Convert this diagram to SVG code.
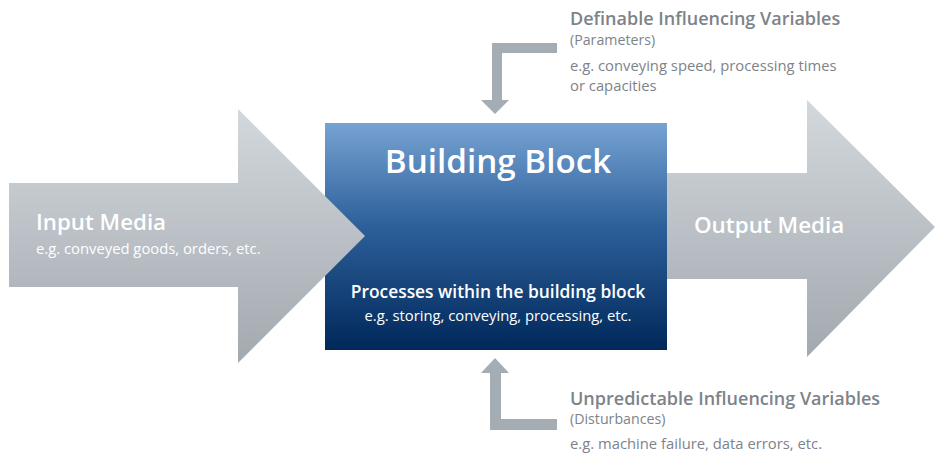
<svg xmlns="http://www.w3.org/2000/svg" width="940" height="456" viewBox="0 0 940 456">
<defs>
<linearGradient id="gArrow" x1="0" y1="0" x2="0" y2="1">
<stop offset="0" stop-color="#d3d8dc"/>
<stop offset="1" stop-color="#a2a9af"/>
</linearGradient>
<linearGradient id="gBox" x1="0" y1="0" x2="0" y2="1">
<stop offset="0" stop-color="#77a3d3"/>
<stop offset="0.45" stop-color="#2d609a"/>
<stop offset="1" stop-color="#00285a"/>
</linearGradient>
<style>
text{font-family:"Open Sans","Noto Sans","Liberation Sans",sans-serif}
.w{fill:#ffffff}
.g{fill:#7d838a}
.h{font-weight:600}
.elbow{fill:#a5adb4}
</style>
</defs>
<rect width="940" height="456" fill="#ffffff"/>
<g id="connectors">
<path class="elbow" d="M557 43 L492 43 L492 100 L481 100 L495 114 L509 100 L502 100 L502 53 L557 53 Z"/>
<path class="elbow" d="M557 430 L490 430 L490 373 L481 373 L495 358 L509 373 L501 373 L501 419 L557 419 Z"/>
</g>
<g id="output">
<path d="M660 173 L807 173 L807 100 L935 227 L807 357 L807 279 L660 279 Z" fill="url(#gArrow)"/>
<text class="w h" x="694" y="233" font-size="22.4">Output Media</text>
</g>
<g id="block">
<rect x="325" y="123" width="342" height="227" fill="url(#gBox)"/>
<text class="w h" x="498" y="173" font-size="33.2" text-anchor="middle">Building Block</text>
<text class="w h" x="498" y="298" font-size="17.4" text-anchor="middle">Processes within the building block</text>
<text class="w" x="498" y="321" font-size="14.8" text-anchor="middle">e.g. storing, conveying, processing, etc.</text>
</g>
<g id="input">
<path d="M9 183 L238 183 L238 109 L365 236 L238 363 L238 287 L9 287 Z" fill="url(#gArrow)"/>
<text class="w h" x="36" y="230" font-size="22.3">Input Media</text>
<text class="w" x="36" y="254" font-size="14.8">e.g. conveyed goods, orders, etc.</text>
</g>
<g id="parameters">
<text class="g h" x="570" y="25" font-size="18">Definable Influencing Variables</text>
<text class="g" x="570" y="45" font-size="14.2">(Parameters)</text>
<text class="g" x="570" y="71" font-size="14.8">e.g. conveying speed, processing times</text>
<text class="g" x="570" y="91" font-size="14.8">or capacities</text>
</g>
<g id="disturbances">
<text class="g h" x="570" y="405" font-size="18">Unpredictable Influencing Variables</text>
<text class="g" x="570" y="424" font-size="14.2">(Disturbances)</text>
<text class="g" x="570" y="449" font-size="14.8">e.g. machine failure, data errors, etc.</text>
</g>
</svg>
